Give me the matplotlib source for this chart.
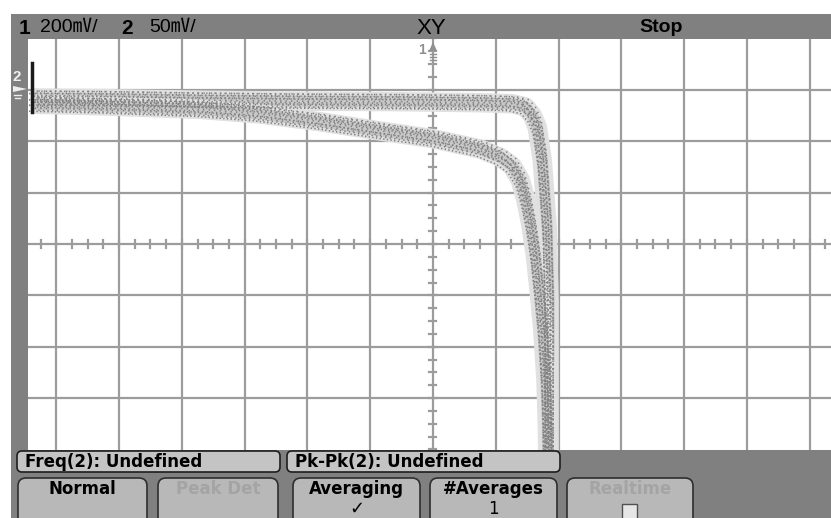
import matplotlib.pyplot as plt
import matplotlib.transforms as mtransforms
import numpy as np
from matplotlib.patches import Rectangle, FancyBboxPatch, Polygon

# XY trace in divisions (x: ch1 200mV/div, y: ch2 50mV/div)
upper_x = [-6.37, -5.31, -3.71, -2.12, -0.53, 0.75, 1.26, 1.47, 1.58, 1.66, 1.74, 1.78, 1.82, 1.83, 1.85, 1.85, 1.85, 1.85]
upper_y = [2.84, 2.83, 2.80, 2.78, 2.77, 2.75, 2.73, 2.67, 2.51, 2.28, 1.64, 0.99, 0.33, -0.21, -1.09, -2.07, -3.04, -4.2]
lower_x = [-6.37, -5.31, -3.71, -2.76, -1.80, -0.84, 0.00, 0.75, 1.07, 1.26, 1.39, 1.48, 1.56, 1.63, 1.69, 1.75, 1.80, 1.82, 1.83]
lower_y = [2.72, 2.69, 2.62, 2.53, 2.38, 2.20, 2.05, 1.85, 1.69, 1.52, 1.25, 0.86, 0.37, -0.21, -0.90, -1.68, -2.65, -3.43, -4.2]
clip_x = [-6.39, -6.39]
clip_y = [2.57, 3.53]

# screen texts
status_left = ['1', '200㎷/', '2', '50㎷/']
mode_label = 'XY'
run_label = 'Stop'
measurements = ['Freq(2): Undefined', 'Pk-Pk(2): Undefined']
softkeys = ['Normal', 'Peak Det', 'Averaging', '#Averages', 'Realtime']
softkey_sub = ['', '', '✓', '1', '']
softkey_enabled = [True, False, True, True, False]

W, H = 831, 518
GRAY = '#808080'
FONT = ['Liberation Sans', 'Noto Sans CJK JP', 'DejaVu Sans']
plt.rcParams['font.family'] = FONT

fig = plt.figure(figsize=(W / 100, H / 100), dpi=100)


def pixel_axes(z):
    a = fig.add_axes([0, 0, 1, 1], zorder=z)
    a.set_xlim(0, W)
    a.set_ylim(H, 0)
    a.axis('off')
    a.patch.set_alpha(0)
    return a


bg = pixel_axes(0)
bg.add_patch(Rectangle((11, 14), W - 11, H - 14, facecolor=GRAY, edgecolor='none'))

# graticule area
left, top, bottom = 28, 39, 450
ax = fig.add_axes([left / W, 1 - bottom / H, 1 - left / W, (bottom - top) / H], zorder=1)
ax.set_facecolor('white')
ax.set_xlim(-6.45, 6.34)
ax.set_ylim(-4.01, 3.99)
for s in ax.spines.values():
    s.set_visible(False)
ax.set_xticks([])
ax.set_yticks([])

gcol = '#9c9c9c'
for k in range(-6, 7):
    ax.axvline(k, color=gcol, lw=1.6, zorder=1)
for k in range(-3, 4):
    ax.axhline(k, color=gcol, lw=1.6, zorder=1)
# minor ticks on centre axes
for t in np.arange(-6.75, 6.5, 0.25):
    ax.plot([t, t], [-0.07, 0.07], color=gcol, lw=1.6, zorder=1)
for t in np.arange(-4, 4.01, 0.25):
    ax.plot([-0.056, 0.056], [t, t], color=gcol, lw=1.6, zorder=1)

# the noisy trace, drawn as a soft band with a speckled texture
offsets = [(-4, -7), (2, -6), (-1, -4), (4, -3), (-4, -1.5), (1, 0), (-2, 2), (4, 2.5),
           (-4, 4.5), (1, 5), (-1, 7), (4, 7)]
for xs, ys in [(upper_x, upper_y), (lower_x, lower_y)]:
    for lw, c in [(14, '#e0e0e0'), (8, '#c8c8c8')]:
        ax.plot(xs, ys, color=c, lw=lw, solid_capstyle='butt', solid_joinstyle='round', zorder=2)
    for i, (dx, dy) in enumerate(offsets):
        tr = mtransforms.offset_copy(ax.transData, fig=fig, x=dx, y=dy, units='dots')
        ax.plot(xs, ys, color='#808080', lw=1.1, transform=tr, zorder=3,
                linestyle=(i * 0.9, (0.9, 1.5 + 0.6 * (i % 3))))
ax.plot(clip_x, clip_y, color='#1a1a1a', lw=2.5, zorder=4)

fg = pixel_axes(2)

# status bar
fg.text(19, 28, status_left[0], fontsize=15, fontweight='bold', va='center', ha='left')
fg.text(40, 28, status_left[1], fontsize=14, va='center', ha='left', family=FONT)
fg.text(121, 28, status_left[2], fontsize=15, fontweight='bold', va='center', ha='left')
fg.text(149, 28, status_left[3], fontsize=14, va='center', ha='left', family=FONT)
fg.text(431, 28, mode_label, fontsize=16, va='center', ha='center')
fg.text(661, 28, run_label, fontsize=14, fontweight='bold', va='center', ha='center')

# channel markers
fg.text(17, 77, '2', fontsize=11, fontweight='bold', color='#eeeeee', va='center', ha='center')
fg.add_patch(Polygon([[13, 86], [27, 89], [13, 92]], closed=True, facecolor='#eeeeee', edgecolor='none'))
fg.plot([14, 21], [95, 95], color='#eeeeee', lw=1)
fg.plot([15, 20], [98, 98], color='#eeeeee', lw=1)
fg.text(422, 50, '1', fontsize=10, fontweight='bold', color='#909090', va='center', ha='center')
fg.add_patch(Polygon([[429, 51], [433, 42], [437, 51]], closed=True, facecolor='#909090', edgecolor='none'))
for yy in [54, 57, 60]:
    fg.plot([430, 436], [yy, yy], color='#909090', lw=1)

BOLD = ['DejaVu Sans']

# measurement line
meas_boxes = [(17, 280), (287, 560)]
for (x0, x1), label in zip(meas_boxes, measurements):
    fg.add_patch(FancyBboxPatch((x0, 451), x1 - x0, 21, boxstyle='round,pad=0,rounding_size=5',
                                facecolor='#c4c4c4', edgecolor='#1e1e1e', lw=1.2))
    fg.text(x0 + 8, 462, label, fontsize=12, fontweight='bold', va='center', ha='left', family=BOLD)

# softkeys
key_boxes = [(18, 147), (158, 278), (293, 420), (430, 557), (567, 693)]
for (x0, x1), label, sub, on in zip(key_boxes, softkeys, softkey_sub, softkey_enabled):
    fg.add_patch(FancyBboxPatch((x0, 478), x1 - x0, 50, boxstyle='round,pad=0,rounding_size=8',
                                facecolor='#b8b8b8', edgecolor='#2e2e2e', lw=1.2))
    col = 'black' if on else '#a4a4a4'
    xc = (x0 + x1) / 2
    fg.text(xc, 489, label, fontsize=12, fontweight='bold', color=col, va='center', ha='center', family=BOLD)
    if sub:
        fg.text(xc, 509, sub, fontsize=13 if sub == '✓' else 12, fontweight='bold' if sub == '✓' else 'normal',
                color=col, va='center', ha='center', family=BOLD)
# Realtime checkbox
fg.add_patch(Rectangle((622, 504), 15, 16, facecolor='#e6e6e6', edgecolor='#505050', lw=1))

fig.savefig('out.png', dpi=100)
